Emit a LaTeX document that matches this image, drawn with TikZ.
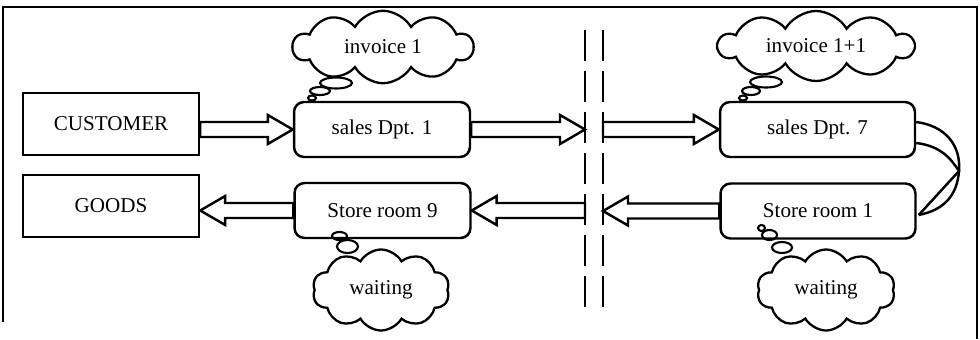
\documentclass[tikz,border=0pt]{standalone}
\usepackage{fontspec}
\setmainfont{Liberation Serif}
\usetikzlibrary{calc, shapes.symbols}

\tikzset{
  box/.style={draw, line width=1.4pt, minimum width=3.52cm, minimum height=1.24cm},
  roundbox/.style={draw, line width=1.4pt, rounded corners=0.2cm, minimum width=3.52cm, minimum height=1.1cm},
  thought/.style={draw, cloud, cloud puffs=10, cloud puff arc=120, cloud ignores aspect, line width=1.3pt, inner sep=0pt},
  puff/.style={line width=1.2pt},
  fatline/.style={draw, line width=1.4pt, line join=miter, fill=white},
  bar/.style={line width=1.4pt, dash pattern=on 0.62cm off 0.2cm}
}

% hollow block arrow from #1 to #2 (horizontal)
\newcommand{\fatarrow}[2]{%
  \path[fatline] let \p1=(#1), \p2=(#2), \n1={sign(\x2-\x1)*0.5cm} in
    (\x1,\y1+0.15cm) -- ({\x2-(\n1)},\y1+0.15cm) -- ({\x2-(\n1)},\y1+0.29cm)
    -- (\x2,\y1) -- ({\x2-(\n1)},\y1-0.29cm) -- ({\x2-(\n1)},\y1-0.15cm)
    -- (\x1,\y1-0.15cm) -- cycle;}

\begin{document}
\begin{tikzpicture}[x=0.02cm, y=-0.02cm, font=\fontsize{12}{14}\selectfont]
\useasboundingbox (0,0) rectangle (980,339);
% Frame
\draw[line width=1.1pt] (3,322) -- (3,7) -- (977,7) -- (977,339);

% Boxes
\node[box] (cust) at (111,124) {CUSTOMER};
\node[box] (goods) at (111,206) {GOODS};
\node[roundbox] (sales1) at (382,129.5) {sales Dpt. 1};
\node[roundbox] (store9) at (382.5,210.5) {Store room 9};
\node[roundbox, minimum width=3.9cm] (sales7) at (817.5,129.5) {sales Dpt. 7};
\node[roundbox, minimum width=3.9cm] (store1) at (818,211) {Store room 1};

% Border between the two sites
\coordinate (barL) at (585,30);
\coordinate (barR) at (603,30);
\draw[bar] (barL) -- (585,312);
\draw[bar] (barR) -- (603,312);

% Flow arrows
\fatarrow{cust.east |- sales1.west}{sales1.west}
\fatarrow{sales1.east}{barL |- sales1.east}
\fatarrow{barR |- sales7.west}{sales7.west}
\fatarrow{store1.west}{barR |- store1.west}
\fatarrow{barL |- store9.east}{store9.east}
\fatarrow{store9.west}{goods.east |- store9.west}

% Loop between sales Dpt. 7 and Store room 1
\coordinate (turn) at (959,171);
\draw[line width=1.4pt] ($(sales7.east)+(0,-7.5)$) .. controls +(30,4) and +(2,-25) .. (turn)
  .. controls +(-2,25) and +(25,-5) .. ($(store1.east)+(2,4)$);
\draw[line width=1.4pt] ($(sales7.east)+(0,13.5)$) .. controls +(25,3) and +(-8,-12) .. (turn)
  -- ($(store1.east)+(2,4)$);

% Thoughts
\node[thought, minimum width=3.6cm, minimum height=1.45cm] (inv1) at (383,47) {invoice 1};
\draw[puff] (336,83) ellipse (0.32cm and 0.11cm);
\draw[puff] (320,91) ellipse (0.2cm and 0.08cm);
\draw[puff] (312,98) ellipse (0.08cm and 0.05cm);

\node[thought, minimum width=3.9cm, minimum height=1.4cm] (inv2) at (816,46) {invoice 1+1};
\draw[puff] (766,82) ellipse (0.32cm and 0.11cm);
\draw[puff] (751,91) ellipse (0.18cm and 0.08cm);
\draw[puff] (743,98) ellipse (0.08cm and 0.05cm);

\node[thought, minimum width=2.74cm, minimum height=1.62cm] (wait1) at (381,290) {waiting};
\draw[puff] (339.5,236) ellipse (0.15cm and 0.08cm);
\draw[puff] (347.5,246.5) ellipse (0.21cm and 0.13cm);

\node[thought, minimum width=2.76cm, minimum height=1.62cm] (wait2) at (826,290) {waiting};
\draw[puff] (761.5,228) ellipse (0.07cm and 0.06cm);
\draw[puff] (769.5,235) ellipse (0.15cm and 0.1cm);
\draw[puff] (782,247.5) ellipse (0.2cm and 0.11cm);
\end{tikzpicture}
\end{document}
